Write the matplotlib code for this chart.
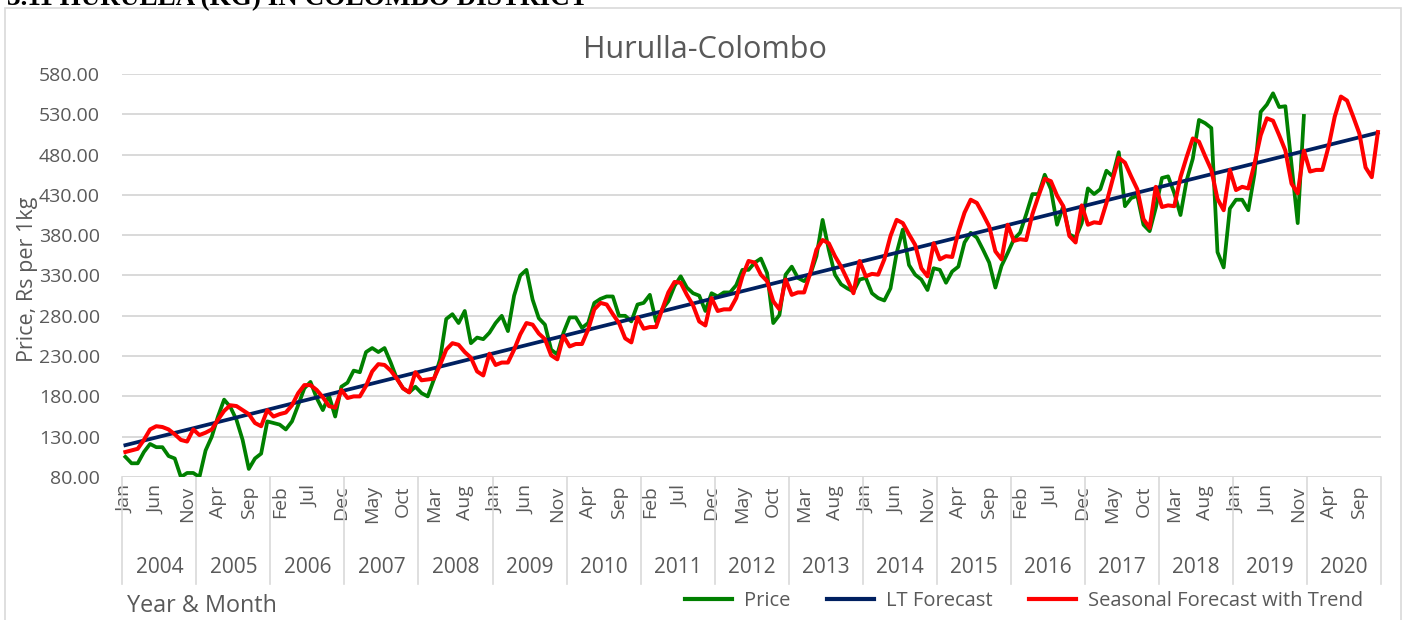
import matplotlib
matplotlib.use("Agg")
import matplotlib.pyplot as plt
from matplotlib.patches import Rectangle
import numpy as np

# ---------------- data ----------------
years = [2004, 2005, 2006, 2007, 2008, 2009, 2010, 2011, 2012,
         2013, 2014, 2015, 2016, 2017, 2018, 2019, 2020]
month_names = ['Jan', 'Feb', 'Mar', 'Apr', 'May', 'Jun',
               'Jul', 'Aug', 'Sep', 'Oct', 'Nov', 'Dec']

# Monthly price Jan 2004 .. Dec 2019
price = [
    105, 97, 97, 111, 121, 117, 117, 106, 103, 80, 85, 85,            # 2004
    80, 113, 130, 155, 176, 167, 151, 126, 90, 103, 109, 149,         # 2005
    147, 145, 139, 149, 169, 190, 198, 178, 163, 181, 155, 192,       # 2006
    197, 212, 210, 235, 240, 235, 240, 222, 202, 190, 185, 192,       # 2007
    184, 180, 201, 226, 276, 282, 271, 286, 246, 253, 251, 259,       # 2008
    271, 280, 261, 305, 330, 337, 300, 277, 269, 238, 232, 259,       # 2009
    278, 278, 265, 271, 296, 301, 304, 304, 280, 280, 273, 294,       # 2010
    296, 306, 273, 288, 298, 317, 329, 315, 308, 305, 286, 308,       # 2011
    304, 309, 309, 318, 337, 337, 346, 351, 333, 271, 281, 331,       # 2012
    341, 327, 323, 331, 354, 399, 362, 331, 319, 314, 310, 325,       # 2013
    327, 308, 302, 299, 314, 358, 387, 343, 331, 325, 312, 339,       # 2014
    337, 321, 335, 341, 371, 383, 377, 362, 346, 315, 342, 358,       # 2015
    375, 383, 406, 431, 431, 455, 437, 393, 416, 381, 377, 395,       # 2016
    438, 431, 437, 460, 453, 483, 416, 426, 429, 393, 385, 414,       # 2017
    451, 453, 432, 405, 448, 475, 523, 519, 513, 359, 340, 413,       # 2018
    424, 424, 411, 456, 533, 542, 556, 539, 540, 467, 395, 528,       # 2019
]

# Seasonal forecast with trend Jan 2004 .. Dec 2020
seasonal = [
    111, 113, 115, 126, 139, 143, 142, 139, 133, 126, 124, 139,       # 2004
    132, 135, 139, 151, 162, 169, 168, 163, 158, 147, 143, 163,       # 2005
    155, 158, 160, 169, 184, 194, 194, 188, 179, 168, 166, 188,       # 2006
    178, 180, 180, 193, 211, 220, 219, 212, 202, 190, 185, 210,       # 2007
    200, 201, 202, 219, 238, 246, 244, 235, 228, 211, 206, 233,       # 2008
    219, 222, 222, 238, 257, 271, 269, 258, 251, 231, 226, 255,       # 2009
    242, 245, 245, 263, 288, 296, 294, 282, 271, 252, 247, 278,       # 2010
    264, 266, 266, 288, 309, 322, 321, 306, 293, 273, 268, 302,       # 2011
    286, 288, 288, 302, 329, 348, 346, 331, 323, 298, 288, 325,       # 2012
    306, 309, 309, 333, 362, 374, 370, 354, 341, 325, 308, 348,       # 2013
    329, 332, 331, 350, 379, 399, 395, 381, 368, 339, 329, 370,       # 2014
    350, 354, 353, 384, 408, 424, 420, 406, 391, 360, 350, 393,       # 2015
    373, 375, 374, 406, 429, 450, 447, 429, 416, 379, 371, 417,       # 2016
    393, 396, 395, 420, 449, 476, 470, 453, 437, 400, 389, 440,       # 2017
    415, 417, 416, 452, 477, 500, 496, 478, 461, 425, 411, 461,       # 2018
    436, 440, 438, 469, 504, 525, 522, 504, 485, 444, 432, 485,       # 2019
    459, 461, 461, 490, 527, 552, 547, 527, 506, 464, 452, 508,       # 2020
]

# Long-term (linear) forecast read at January of each year, plus Dec 2020
lt_forecast_jan = [119.5, 142.4, 165.3, 188.3, 211.2, 234.1, 257.0, 279.9,
                   302.9, 325.8, 348.7, 371.6, 394.5, 417.5, 440.4, 463.3, 486.2]
lt_forecast_dec2020 = 507.2

y_ticks = [80, 130, 180, 230, 280, 330, 380, 430, 480, 530, 580]

# ---------------- figure ----------------
FONT = ['Open Sans', 'DejaVu Sans']
TXT = '#595959'
GRID = '#d9d9d9'

fig = plt.figure(figsize=(14.05, 6.2), dpi=100)
ax = fig.add_axes([0.08705, 0.23065, 0.89587, 0.65])

n_months = len(years) * 12
x_price = np.arange(len(price))
x_seas = np.arange(len(seasonal))
x_lt = [12 * k for k in range(len(lt_forecast_jan))] + [n_months - 1]
y_lt = lt_forecast_jan + [lt_forecast_dec2020]

ax.plot(x_price, price, color='#008000', lw=2.7, label='Price',
        solid_joinstyle='round', zorder=3)
ax.plot(x_lt, y_lt, color='#002060', lw=2.7, label='LT Forecast', zorder=4)
ax.plot(x_seas, seasonal, color='#ff0000', lw=2.9,
        label='Seasonal Forecast with Trend', solid_joinstyle='round', zorder=5)

ax.set_xlim(-0.5, n_months - 0.5)
ax.set_ylim(80, 580)
ax.set_yticks(y_ticks)
ax.set_yticklabels([f'{v:.2f}' for v in y_ticks], fontsize=14,
                   color=TXT, family=FONT)
ax.yaxis.grid(True, color=GRID, lw=1.4)
ax.set_axisbelow(True)
for s in ax.spines.values():
    s.set_visible(False)
ax.tick_params(axis='y', length=0, pad=16)

# month ticks every 5 months
tick_pos = list(range(0, n_months, 5))
ax.set_xticks(tick_pos)
ax.set_xticklabels([month_names[p % 12] for p in tick_pos], rotation=90,
                   fontsize=14, color=TXT, family=FONT, va='top', ha='center')
ax.tick_params(axis='x', length=0, pad=6)

# year separators and labels
trans = ax.get_xaxis_transform()
for k in range(len(years) + 1):
    ax.plot([12 * k - 0.5, 12 * k - 0.5], [0, -0.2655], transform=trans,
            color=GRID, lw=1.2, clip_on=False)
for k, yr in enumerate(years):
    ax.text(12 * k + 5.5, -0.2258, str(yr), transform=trans, ha='center',
            va='center', fontsize=15, color=TXT, family=FONT)

# titles & labels
fig.text(705 / 1405, 1 - 50 / 620, 'Hurulla-Colombo', ha='center', va='center',
         fontsize=22, color=TXT, family=FONT)
fig.text(28 / 1405, 1 - 279 / 620, 'Price, Rs per 1kg', rotation=90,
         ha='center', va='center', fontsize=15.5, color=TXT, family=FONT)
fig.text(127 / 1405, 1 - 606 / 620, 'Year & Month', ha='left', va='center',
         fontsize=16.8, color=TXT, family=FONT)

# heading above the chart frame (cut off by the top edge, as in the reference)
fig.text(7 / 1405, 1 - 5 / 620, '3.11 HURULLA (KG) IN COLOMBO DISTRICT',
         ha='left', va='baseline', fontsize=19.5, weight='bold',
         family=['Liberation Serif', 'DejaVu Serif'], color='black')

# chart frame
fig.patches.append(Rectangle((5 / 1405, -0.05), (1401 - 5) / 1405,
                             1 - 8 / 620 + 0.05, transform=fig.transFigure,
                             fill=False, edgecolor=GRID, lw=1.2))

leg = fig.legend(loc='center', bbox_to_anchor=(1024 / 1405, 1 - 601 / 620),
                 ncol=3, frameon=False, handlelength=2.35, handletextpad=0.6,
                 columnspacing=1.8, prop={'family': FONT, 'size': 14.5})
for t in leg.get_texts():
    t.set_color(TXT)
for h in leg.get_lines():
    h.set_linewidth(3)

fig.savefig('out.png', dpi=100)
